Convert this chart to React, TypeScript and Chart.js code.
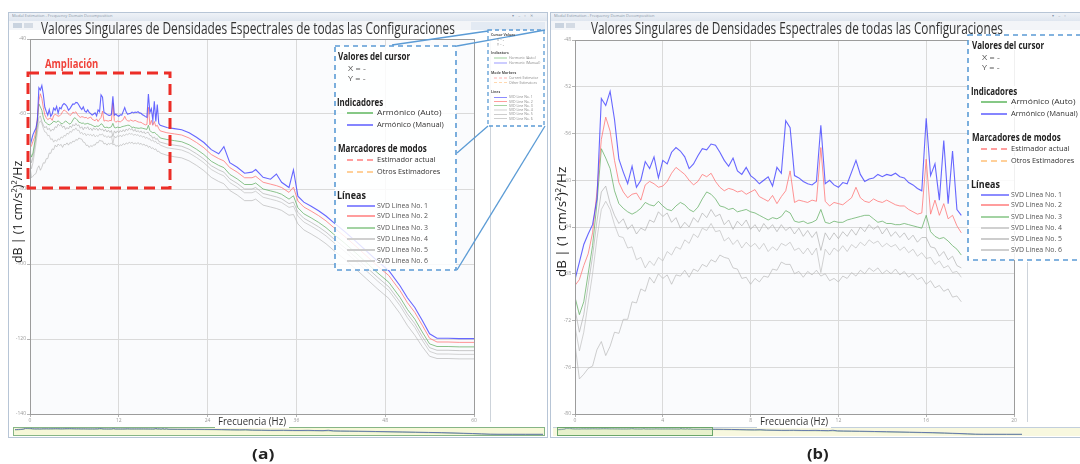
import React, { useEffect, useLayoutEffect, useRef, useState } from 'react';
import { Chart, registerables } from 'chart.js';

Chart.register(...registerables);

const FONT = '"Open Sans", "Liberation Sans", sans-serif';

// ---------------- data ----------------
const FREQ_HZ = [
  0, 0.2, 0.4, 0.6, 0.8, 1, 1.2, 1.4, 1.6, 1.8,
  2, 2.2, 2.4, 2.6, 2.8, 3, 3.2, 3.4, 3.6, 3.8,
  4, 4.2, 4.4, 4.6, 4.8, 5, 5.2, 5.4, 5.6, 5.8,
  6, 6.2, 6.4, 6.6, 6.8, 7, 7.2, 7.4, 7.6, 7.8,
  8, 8.2, 8.4, 8.6, 8.8, 9, 9.2, 9.4, 9.6, 9.8,
  10, 10.2, 10.4, 10.6, 10.8, 11, 11.2, 11.4, 11.6, 11.8,
  12, 12.2, 12.4, 12.6, 12.8, 13, 13.2, 13.4, 13.6, 13.8,
  14, 14.2, 14.4, 14.6, 14.8, 15, 15.2, 15.4, 15.6, 15.8,
  16, 16.2, 16.4, 16.6, 16.8, 17, 17.2, 17.4, 17.6,
  18.5, 19.5, 20.5, 21.5, 22.5, 23.5, 24.5, 25.5, 26.2, 27,
  28, 29, 30, 30.5, 31.5, 32.5, 33.3, 34, 35, 35.6,
  36.2, 37, 38, 39, 40, 41, 42.5, 44, 45.5, 47,
  48.5, 50, 51, 52, 53, 54, 55, 56.5, 58, 60,
];

const SVD_LINE_1 = [
  -68.5, -67.0, -65.5, -64.6, -63.8, -61.6, -53.0, -53.6, -52.4, -54.8,
  -58.2, -59.3, -60.3, -58.8, -60.6, -60.0, -58.4, -59.0, -58.0, -59.8,
  -58.3, -58.6, -57.6, -57.2, -57.5, -58.0, -59.0, -58.6, -57.9, -57.3,
  -57.4, -56.9, -57.0, -57.6, -58.3, -58.8, -58.1, -59.2, -59.5, -58.9,
  -59.6, -59.9, -60.3, -60.0, -59.7, -60.5, -58.9, -59.4, -54.9, -55.5,
  -59.6, -59.8, -60.1, -60.3, -60.4, -60.1, -55.3, -60.3, -60.0, -60.4,
  -60.6, -60.2, -60.3, -59.3, -58.3, -59.5, -60.1, -59.9, -59.8, -59.5,
  -59.7, -59.5, -59.6, -59.4, -59.7, -59.8, -60.2, -60.4, -60.7, -60.9,
  -54.7, -59.6, -58.6, -61.7, -56.6, -62.0, -57.5, -62.5, -63.0,
  -63.6, -63.9, -64.2, -65.0, -66.2, -67.6, -69.5, -70.6, -68.7, -73.0,
  -74.2, -75.8, -75.5, -74.8, -76.9, -77.4, -76.0, -78.2, -79.6, -74.9,
  -81.9, -83.5, -84.6, -85.8, -87.2, -88.9, -91.3, -93.9, -96.6, -99.3,
  -101.8, -105.8, -109.0, -111.6, -115.0, -118.6, -119.8, -119.8, -119.9, -119.9,
];

const SVD_LINE_2 = [
  -69.0, -68.5, -67.3, -66.3, -64.5, -61.0, -56.5, -54.6, -55.8, -58.3,
  -60.2, -61.0, -61.5, -61.2, -61.1, -61.7, -60.4, -60.1, -60.3, -60.6,
  -60.5, -60.1, -59.4, -58.9, -59.2, -59.5, -60.0, -60.4, -60.1, -59.5,
  -59.7, -59.4, -60.1, -60.6, -60.9, -60.7, -60.8, -61.0, -60.9, -61.2,
  -61.0, -60.8, -61.4, -61.6, -61.8, -61.3, -62.0, -61.4, -60.9, -59.2,
  -61.9, -61.7, -61.8, -61.9, -61.7, -61.8, -57.2, -61.8, -62.2, -61.9,
  -62.0, -62.1, -61.8, -61.5, -60.6, -61.5, -61.8, -61.9, -61.6, -61.8,
  -61.9, -61.7, -61.9, -62.1, -62.2, -62.2, -62.5, -62.7, -62.9, -62.8,
  -58.2, -62.9, -61.7, -63.0, -62.0, -63.3, -63.0, -63.9, -64.5,
  -65.0, -65.3, -65.6, -66.4, -67.6, -69.0, -70.8, -71.9, -72.5, -74.3,
  -75.5, -77.0, -77.0, -76.6, -78.2, -78.7, -79.1, -79.6, -80.9, -79.5,
  -83.2, -84.8, -85.9, -87.1, -88.5, -90.2, -92.6, -95.2, -97.9, -100.6,
  -103.1, -107.1, -110.3, -112.9, -116.3, -119.8, -120.8, -120.8, -120.9, -120.9,
];

const SVD_LINE_3 = [
  -70.0, -71.5, -70.4, -68.0, -65.6, -62.0, -57.3, -58.1, -59.0, -60.9,
  -62.0, -62.4, -62.7, -62.9, -62.7, -62.4, -61.9, -62.1, -62.2, -61.8,
  -62.2, -62.5, -62.6, -62.2, -61.9, -62.1, -62.5, -62.7, -62.3, -61.6,
  -61.0, -61.2, -61.6, -62.2, -62.3, -62.5, -62.4, -62.7, -62.6, -62.5,
  -62.7, -62.8, -63.0, -63.2, -63.4, -63.2, -63.3, -63.1, -62.6, -62.8,
  -63.5, -63.6, -63.5, -63.7, -63.6, -63.4, -62.5, -63.6, -63.7, -63.5,
  -63.6, -63.6, -63.4, -63.3, -63.2, -63.1, -63.0, -63.0, -63.3, -63.6,
  -63.5, -63.7, -63.7, -63.8, -63.8, -63.7, -63.8, -63.9, -64.0, -64.1,
  -63.0, -64.4, -64.8, -65.0, -64.9, -65.2, -65.6, -65.9, -66.4,
  -66.8, -67.1, -67.4, -68.2, -69.4, -70.8, -72.6, -73.7, -74.3, -76.1,
  -77.3, -78.8, -78.8, -78.4, -80.0, -80.5, -80.9, -81.4, -82.7, -81.8,
  -85.0, -86.6, -87.7, -88.9, -90.3, -92.0, -94.4, -97.0, -99.7, -102.4,
  -104.9, -108.9, -112.1, -114.7, -118.1, -121.3, -122.0, -122.0, -122.1, -122.1,
];

const SVD_LINE_4 = [
  -71.0, -73.0, -71.5, -69.0, -66.5, -63.5, -61.0, -60.5, -62.0, -63.0,
  -63.7, -63.3, -64.2, -63.8, -64.6, -64.1, -64.3, -63.4, -63.6, -62.7,
  -63.1, -62.8, -63.6, -63.2, -64.1, -63.6, -64.0, -63.2, -63.6, -62.8,
  -63.2, -62.5, -63.1, -62.9, -63.8, -63.4, -64.2, -63.5, -63.9, -63.4,
  -64.2, -63.8, -64.4, -63.7, -64.2, -63.8, -64.4, -63.8, -64.3, -64.0,
  -64.6, -64.1, -64.8, -64.3, -64.9, -64.4, -66.0, -64.5, -65.1, -64.5,
  -65.0, -64.4, -64.8, -64.2, -64.7, -64.0, -64.4, -63.8, -64.2, -63.9,
  -64.6, -64.1, -64.8, -64.4, -64.9, -64.5, -65.1, -64.7, -65.3, -64.9,
  -64.9, -65.7, -65.8, -66.5, -66.1, -66.8, -66.5, -67.3, -67.5,
  -68.0, -68.3, -68.6, -69.4, -70.6, -72.0, -73.8, -74.9, -75.5, -77.3,
  -78.5, -80.0, -80.0, -79.6, -81.2, -81.7, -82.1, -82.6, -83.9, -83.5,
  -86.2, -87.8, -88.9, -90.1, -91.5, -93.2, -95.6, -98.2, -100.9, -103.6,
  -106.1, -110.1, -113.3, -115.9, -119.3, -122.3, -123.0, -123.0, -123.1, -123.1,
];

const SVD_LINE_5 = [
  -72.5, -74.6, -73.0, -70.5, -68.0, -65.0, -62.5, -61.8, -62.5, -63.8,
  -64.8, -64.9, -65.8, -65.7, -66.8, -66.6, -67.5, -66.9, -67.3, -66.6,
  -66.9, -66.1, -66.4, -65.7, -65.9, -65.1, -65.4, -64.6, -64.9, -64.1,
  -64.3, -63.7, -64.4, -64.3, -65.2, -64.9, -65.5, -65.1, -65.8, -65.3,
  -65.7, -65.4, -65.9, -65.4, -66.1, -65.7, -66.0, -65.4, -65.6, -65.3,
  -66.0, -65.8, -66.3, -65.8, -66.4, -65.8, -67.9, -65.9, -66.4, -65.8,
  -66.1, -65.6, -66.1, -65.5, -65.8, -65.3, -65.6, -65.1, -65.4, -65.2,
  -65.7, -65.4, -65.7, -65.5, -66.0, -65.7, -66.2, -65.9, -66.5, -66.2,
  -66.7, -66.6, -67.2, -66.9, -67.5, -67.3, -67.9, -67.8, -68.3,
  -69.0, -69.3, -69.6, -70.4, -71.6, -73.0, -74.8, -75.9, -76.5, -78.3,
  -79.5, -81.0, -81.0, -80.6, -82.2, -82.7, -83.1, -83.6, -84.9, -84.6,
  -87.2, -88.8, -89.9, -91.1, -92.5, -94.2, -96.6, -99.2, -101.9, -104.6,
  -107.1, -111.1, -114.3, -116.9, -120.3, -123.3, -124.0, -124.0, -124.1, -124.1,
];

const SVD_LINE_6 = [
  -74.0, -77.0, -76.6, -76.1, -75.9, -74.5, -73.8, -75.0, -74.2, -73.0,
  -73.1, -71.9, -71.9, -70.4, -70.5, -69.3, -69.5, -68.3, -68.8, -68.0,
  -68.4, -68.1, -68.9, -68.1, -68.2, -67.7, -68.3, -67.6, -67.8, -67.2,
  -67.4, -66.8, -67.0, -66.4, -66.6, -66.7, -67.5, -67.6, -68.4, -68.3,
  -68.9, -68.4, -68.7, -68.2, -68.3, -67.6, -67.7, -67.0, -67.2, -67.2,
  -68.0, -67.8, -68.3, -67.8, -68.1, -67.7, -68.2, -68.0, -68.6, -68.4,
  -68.7, -68.2, -68.4, -67.9, -68.2, -67.7, -68.0, -67.5, -67.8, -67.5,
  -68.0, -67.7, -68.0, -67.6, -68.1, -67.8, -68.3, -68.0, -68.5, -68.3,
  -68.9, -68.6, -69.2, -69.0, -69.5, -69.3, -70.0, -69.9, -70.4,
  -71.0, -71.4, -71.7, -72.5, -73.7, -75.1, -76.9, -78.0, -78.6, -80.4,
  -81.6, -83.1, -83.1, -82.7, -84.3, -84.8, -85.2, -85.7, -87.0, -86.8,
  -89.3, -90.9, -92.0, -93.2, -94.6, -96.3, -98.7, -101.3, -104.0, -106.7,
  -109.2, -113.2, -116.4, -119.0, -122.0, -124.6, -125.2, -125.2, -125.3, -125.3,
];

const SERIES = [SVD_LINE_1, SVD_LINE_2, SVD_LINE_3, SVD_LINE_4, SVD_LINE_5, SVD_LINE_6];
const SERIES_NAMES = ['SVD Línea No. 1', 'SVD Línea No. 2', 'SVD Línea No. 3', 'SVD Línea No. 4', 'SVD Línea No. 5', 'SVD Línea No. 6'];
const SERIES_NAMES_EN = ['SVD Line No. 1', 'SVD Line No. 2', 'SVD Line No. 3', 'SVD Line No. 4', 'SVD Line No. 5', 'SVD Line No. 6'];

const LEFT_X_TICKS = [0, 12, 24, 36, 48, 60];
const LEFT_Y_TICKS = [-140, -120, -100, -80, -60, -40];
const RIGHT_X_TICKS = [0, 4, 8, 12, 16, 20];
const RIGHT_Y_TICKS = [-80, -76, -72, -68, -64, -60, -56, -52, -48];
const ZOOM_MAX_HZ = 17.6;

const TITLE = 'Valores Singulares de Densidades Espectrales de todas las Configuraciones';
const Y_TITLE = 'dB | (1 cm/s²)²/Hz';
const X_TITLE = 'Frecuencia (Hz)';

// ---------------- styles ----------------
const LINE_COLORS = [
  'rgba(70, 70, 255, 0.82)',
  'rgba(255, 120, 120, 0.8)',
  'rgba(100, 175, 100, 0.75)',
  'rgba(175, 175, 175, 0.75)',
  'rgba(190, 190, 190, 0.75)',
  'rgba(182, 182, 182, 0.75)',
];
const LINE_WIDTHS = [1.1, 1, 1, 0.9, 0.9, 0.9];
const LEGEND_SWATCH = ['#8c8cff', '#ff9d9d', '#a3d3a3', '#d0d0d0', '#cdcdcd', '#cfcfcf'];

const plotBackground = {
  id: 'plotBackground',
  beforeDraw(chart: any) {
    const a = chart.chartArea;
    const ctx = chart.ctx;
    ctx.save();
    ctx.fillStyle = '#fafbfd';
    ctx.fillRect(a.left, a.top, a.right - a.left, a.bottom - a.top);
    ctx.restore();
  },
};
const plotFrame = {
  id: 'plotFrame',
  afterDraw(chart: any) {
    const a = chart.chartArea;
    const ctx = chart.ctx;
    ctx.save();
    ctx.strokeStyle = '#9c9c9c';
    ctx.lineWidth = 1;
    ctx.strokeRect(Math.round(a.left) + 0.5, Math.round(a.top) + 0.5, Math.round(a.right - a.left), Math.round(a.bottom - a.top));
    ctx.restore();
  },
};

function spectrumConfig(o: any) {
  const { maxHz, xTicks, yTicks, yAxisW, xAxisH, padTop, padRight } = o;
  const datasets = SERIES.map((vals, i) => ({
    label: SERIES_NAMES[i],
    data: FREQ_HZ.map((f, k) => ({ x: f, y: vals[k] })).filter((p) => p.x <= maxHz + 1e-9),
    borderColor: LINE_COLORS[i],
    borderWidth: LINE_WIDTHS[i],
    pointRadius: 0,
    tension: 0,
    fill: false,
  }));
  const tickFont = { family: FONT, size: 5 };
  return {
    type: 'line',
    data: { datasets },
    options: {
      responsive: false,
      animation: false,
      events: [],
      layout: { padding: { top: padTop, right: padRight, left: 0, bottom: 0 } },
      plugins: { legend: { display: false }, tooltip: { enabled: false }, title: { display: false } },
      scales: {
        x: {
          type: 'linear',
          min: xTicks[0],
          max: xTicks[xTicks.length - 1],
          afterBuildTicks: (s: any) => { s.ticks = xTicks.map((v: number) => ({ value: v })); },
          afterFit: (s: any) => { s.height = xAxisH; },
          ticks: { font: tickFont, color: '#9a9a9a', padding: 1, maxRotation: 0, autoSkip: false },
          grid: { color: '#dadada', lineWidth: 1, tickLength: 3, tickColor: '#b4b4b4' },
          border: { color: '#a0a0a0' },
        },
        y: {
          type: 'linear',
          min: yTicks[0],
          max: yTicks[yTicks.length - 1],
          afterBuildTicks: (s: any) => { s.ticks = yTicks.map((v: number) => ({ value: v })); },
          afterFit: (s: any) => { s.width = yAxisW; },
          ticks: { font: tickFont, color: '#9a9a9a', padding: 1, autoSkip: false },
          grid: { color: '#dadada', lineWidth: 1, tickLength: 3, tickColor: '#b4b4b4' },
          border: { color: '#a0a0a0' },
        },
      },
    },
    plugins: [plotBackground, plotFrame],
  };
}

function overviewConfig() {
  return {
    type: 'line',
    data: {
      datasets: [
        { data: FREQ_HZ.map((f, k) => ({ x: f, y: SVD_LINE_1[k] })), borderColor: 'rgba(90,110,170,0.9)', borderWidth: 1, pointRadius: 0 },
        { data: FREQ_HZ.map((f, k) => ({ x: f, y: SVD_LINE_3[k] })), borderColor: 'rgba(120,170,120,0.6)', borderWidth: 1, pointRadius: 0 },
      ],
    },
    options: {
      responsive: false,
      animation: false,
      events: [],
      layout: { padding: 0 },
      plugins: { legend: { display: false }, tooltip: { enabled: false } },
      scales: {
        x: { type: 'linear', display: false, min: 0, max: 60 },
        y: { type: 'linear', display: false, min: -128, max: -50 },
      },
    },
  };
}

// ---------------- components ----------------
function ChartCanvas({ x, y, w, h, make }: any) {
  const ref = useRef<HTMLCanvasElement>(null);
  useEffect(() => {
    const c = new Chart(ref.current as HTMLCanvasElement, make());
    return () => c.destroy();
  }, []);
  return <canvas ref={ref} width={w} height={h} style={{ position: 'absolute', left: x, top: y, width: w, height: h }} />;
}

function Txt({ x, y, text, size, w, weight = 400, color = '#222', bg }: any) {
  const ref = useRef<HTMLSpanElement>(null);
  const [sx, setSx] = useState(1);
  useLayoutEffect(() => {
    if (w && ref.current) {
      const nat = ref.current.offsetWidth;
      if (nat > 0) setSx(w / nat);
    }
  }, [w, text, size]);
  return (
    <span
      ref={ref}
      style={{
        position: 'absolute', left: x, top: y - size * 0.6, fontSize: size, lineHeight: 1, fontFamily: FONT,
        fontWeight: weight, color, whiteSpace: 'pre', transform: `scaleX(${sx})`, transformOrigin: 'left top',
        background: bg,
      }}
    >{text}</span>
  );
}

function RotTxt({ cx, cy, text, size, w, color = '#222' }: any) {
  const ref = useRef<HTMLSpanElement>(null);
  const [sx, setSx] = useState(1);
  useLayoutEffect(() => {
    if (ref.current) {
      const nat = ref.current.offsetWidth;
      if (nat > 0) setSx(w / nat);
    }
  }, [w, text]);
  return (
    <div style={{ position: 'absolute', left: cx, top: cy, width: 0, height: 0, transform: 'rotate(-90deg)', transformOrigin: '0 0' }}>
      <span ref={ref} style={{ position: 'absolute', left: -w / 2, top: -size * 0.6, fontSize: size, lineHeight: 1, fontFamily: FONT, color, whiteSpace: 'pre', transform: `scaleX(${sx})`, transformOrigin: 'left top' }}>{text}</span>
    </div>
  );
}

function Window({ x, y, w, h, toolbarBlue }: any) {
  return (
    <div style={{ position: 'absolute', left: x, top: y, width: w, height: h, border: '1px solid #b7c5d6', background: '#ffffff', boxSizing: 'border-box' }}>
      <div style={{ position: 'absolute', left: 0, top: 0, right: 0, height: 8, background: 'linear-gradient(#eef2f7,#dfe6ef)' }} />
      <div style={{ position: 'absolute', left: 0, top: 8, right: 0, height: 9, background: '#f3f5f8' }} />
      <div style={{ position: 'absolute', left: toolbarBlue, top: 9, right: 2, height: 8, background: '#e3eaf3' }} />
      <div style={{ position: 'absolute', left: 4, top: 10, width: 9, height: 5, background: '#c9d3df' }} />
      <div style={{ position: 'absolute', left: 15, top: 10, width: 9, height: 5, background: '#d4dbe4' }} />
    </div>
  );
}

function SmallText({ x, y, text, bold }: any) {
  return (
    <span style={{ position: 'absolute', left: x, top: y - 4.5, fontSize: 7, lineHeight: 1, fontFamily: FONT, fontWeight: bold ? 700 : 400, color: bold ? '#555' : '#888', whiteSpace: 'pre' }}>{text}</span>
  );
}

function Swatch({ x1, x2, y, color, dashed, width = 2 }: any) {
  return (
    <div style={{ position: 'absolute', left: x1, top: y - width / 2, width: x2 - x1, height: 0, borderTop: `${width}px ${dashed ? 'dashed' : 'solid'} ${color}` }} />
  );
}

// big legend, origin = top-left of its dashed box
function BigLegend({ ox, oy }: any) {
  const svdY = [160, 170, 182, 193, 204, 215];
  return (
    <>
      <Txt x={ox + 3} y={oy + 11} text="Valores del cursor" size={10.5} w={72} weight={700} bg="#fff" />
      <Txt x={ox + 13} y={oy + 23} text="X = -" size={7.5} w={18} color="#555" />
      <Txt x={ox + 13} y={oy + 33} text="Y = -" size={7.5} w={18} color="#555" />
      <Txt x={ox + 2} y={oy + 57} text="Indicadores" size={10.5} w={46} weight={700} bg="#fff" />
      <Swatch x1={ox + 12} x2={ox + 38} y={oy + 67} color="#86c886" />
      <Txt x={ox + 42} y={oy + 67} text="Armónico (Auto)" size={8} w={65} color="#333" bg="#fff" />
      <Swatch x1={ox + 12} x2={ox + 38} y={oy + 79} color="#8585ff" />
      <Txt x={ox + 42} y={oy + 79} text="Armónico (Manual)" size={8} w={67} color="#333" bg="#fff" />
      <Txt x={ox + 3} y={oy + 103} text="Marcadores de modos" size={10.5} w={89} weight={700} bg="#fff" />
      <Swatch x1={ox + 12} x2={ox + 38} y={oy + 114} color="#ff9e9e" dashed />
      <Txt x={ox + 42} y={oy + 114} text="Estimador actual" size={8} w={59} color="#333" bg="#fff" />
      <Swatch x1={ox + 12} x2={ox + 38} y={oy + 126} color="#ffd09a" dashed />
      <Txt x={ox + 42} y={oy + 126} text="Otros Estimadores" size={8} w={63} color="#333" bg="#fff" />
      <Txt x={ox + 2} y={oy + 150} text="Líneas" size={10.5} w={29} weight={700} bg="#fff" />
      {svdY.map((dy, i) => (
        <React.Fragment key={i}>
          <Swatch x1={ox + 12} x2={ox + 40} y={oy + dy} color={LEGEND_SWATCH[i]} />
          <Txt x={ox + 42} y={oy + dy} text={SERIES_NAMES[i]} size={7.5} w={51} color="#555" bg="#fff" />
        </React.Fragment>
      ))}
    </>
  );
}

function TinyLegend() {
  // drawn at twice the size, then scaled by one half
  const rows = [97.3, 101.7, 105.7, 110, 114.3, 118.7];
  const ox = 488, oy = 30;
  const X = (v: number) => (v - ox) * 2;
  const Y = (v: number) => (v - oy) * 2;
  return (
    <div style={{ position: 'absolute', left: ox, top: oy, width: 120, height: 200, transform: 'scale(0.5)', transformOrigin: '0 0' }}>
      <SmallText x={X(491)} y={Y(35)} text="Cursor Values" bold />
      <SmallText x={X(497)} y={Y(40)} text="X = -" />
      <SmallText x={X(497)} y={Y(44.5)} text="Y = -" />
      <SmallText x={X(491)} y={Y(53)} text="Indicators" bold />
      <Swatch x1={X(494)} x2={X(507)} y={Y(58)} color="#9bd09b" />
      <SmallText x={X(509)} y={Y(58)} text="Harmonic (Auto)" />
      <Swatch x1={X(494)} x2={X(507)} y={Y(63)} color="#9c9cff" />
      <SmallText x={X(509)} y={Y(63)} text="Harmonic (Manual)" />
      <SmallText x={X(491)} y={Y(73)} text="Mode Markers" bold />
      <Swatch x1={X(494)} x2={X(507)} y={Y(78)} color="#ffb0b0" dashed />
      <SmallText x={X(509)} y={Y(78)} text="Current Estimator" />
      <Swatch x1={X(494)} x2={X(507)} y={Y(82.5)} color="#ffd8b0" dashed />
      <SmallText x={X(509)} y={Y(82.5)} text="Other Estimators" />
      <SmallText x={X(491)} y={Y(92)} text="Lines" bold />
      {rows.map((r, i) => (
        <React.Fragment key={i}>
          <Swatch x1={X(494)} x2={X(507)} y={Y(r)} color={LEGEND_SWATCH[i]} />
          <SmallText x={X(509)} y={Y(r)} text={SERIES_NAMES_EN[i]} />
        </React.Fragment>
      ))}
    </div>
  );
}

export default function App() {
  return (
    <div style={{ position: 'fixed', left: 0, top: 0, width: 1080, height: 464, background: '#ffffff', overflow: 'hidden', fontFamily: FONT }}>
      <Window x={8} y={12} w={540} h={426} toolbarBlue={462} />
      <Window x={550} y={12} w={540} h={426} toolbarBlue={1000} />

      {/* window title texts */}
      <div style={{ position: 'absolute', left: 12, top: 13, fontSize: 8, lineHeight: 1, color: '#8a97a8', transform: 'scale(0.5)', transformOrigin: '0 0', whiteSpace: 'pre' }}>Modal Estimation - Frequency Domain Decomposition</div>
      <div style={{ position: 'absolute', left: 554, top: 13, fontSize: 8, lineHeight: 1, color: '#8a97a8', transform: 'scale(0.5)', transformOrigin: '0 0', whiteSpace: 'pre' }}>Modal Estimation - Frequency Domain Decomposition</div>
      <div style={{ position: 'absolute', left: 512, top: 13, fontSize: 8, lineHeight: 1, color: '#8a97a8', transform: 'scale(0.5)', transformOrigin: '0 0', whiteSpace: 'pre' }}>▾    –    ▫    ✕</div>
      <div style={{ position: 'absolute', left: 1052, top: 13, fontSize: 8, lineHeight: 1, color: '#8a97a8', transform: 'scale(0.5)', transformOrigin: '0 0', whiteSpace: 'pre' }}>▾    –    ▫</div>

      {/* separator lines beside the plots */}
      <div style={{ position: 'absolute', left: 490, top: 30, width: 1, height: 392, background: '#cdd3da' }} />
      <div style={{ position: 'absolute', left: 1027, top: 262, width: 1, height: 160, background: '#cdd3da' }} />

      {/* main charts */}
      <ChartCanvas x={0} y={30} w={482} h={400} make={() => spectrumConfig({ maxHz: 1000, xTicks: LEFT_X_TICKS, yTicks: LEFT_Y_TICKS, yAxisW: 30, xAxisH: 16, padTop: 9, padRight: 8 })} />
      <ChartCanvas x={548} y={30} w={472} h={400} make={() => spectrumConfig({ maxHz: ZOOM_MAX_HZ, xTicks: RIGHT_X_TICKS, yTicks: RIGHT_Y_TICKS, yAxisW: 27, xAxisH: 16, padTop: 10, padRight: 6 })} />

      {/* overview strips */}
      <div style={{ position: 'absolute', left: 13, top: 427, width: 532, height: 9, background: '#f6f8d8', border: '1px solid #86b586', boxSizing: 'border-box' }} />
      <ChartCanvas x={15} y={428} w={528} h={7} make={overviewConfig} />
      <div style={{ position: 'absolute', left: 553, top: 427, width: 530, height: 9, background: '#f8f8df', borderTop: '1px solid #c2cfdc', boxSizing: 'border-box' }} />
      <ChartCanvas x={557} y={428} w={465} h={7} make={overviewConfig} />
      <div style={{ position: 'absolute', left: 557, top: 427, width: 156, height: 9, background: 'rgba(200,230,170,0.35)', border: '1px solid #6aa66a', boxSizing: 'border-box' }} />

      {/* x axis titles */}
      <div style={{ position: 'absolute', left: 215, top: 415, width: 74, height: 13, background: '#fff' }} />
      <Txt x={218} y={422} text={X_TITLE} size={10} w={68} color="#333" />
      <div style={{ position: 'absolute', left: 757, top: 415, width: 74, height: 13, background: '#fff' }} />
      <Txt x={760} y={422} text={X_TITLE} size={10} w={68} color="#333" />

      {/* y axis titles */}
      <RotTxt cx={19} cy={212} text={Y_TITLE} size={12} w={102} color="#222" />
      <RotTxt cx={563} cy={222} text={Y_TITLE} size={12} w={110} color="#222" />

      {/* overlay shapes */}
      <svg width={1080} height={464} style={{ position: 'absolute', left: 0, top: 0 }}>
        <rect x={335} y={46} width={121} height={224} fill="rgba(255,255,255,0.82)" stroke="#5b9bd5" strokeWidth={1.6} strokeDasharray="5 4" />
        <rect x={488} y={30} width={56} height={96} fill="rgba(255,255,255,0.85)" stroke="#5b9bd5" strokeWidth={1.3} strokeDasharray="4 3" />
        <rect x={968} y={35} width={140} height={225} fill="rgba(255,255,255,0.85)" stroke="#5b9bd5" strokeWidth={1.6} strokeDasharray="5 4" />
        <line x1={457} y1={46} x2={545} y2={30} stroke="#5b9bd5" strokeWidth={1.3} />
        <line x1={392} y1={45} x2={488} y2={31} stroke="#5b9bd5" strokeWidth={1.3} />
        <line x1={457} y1={153} x2={488} y2={126} stroke="#5b9bd5" strokeWidth={1.3} />
        <line x1={457} y1={270} x2={545} y2={126} stroke="#5b9bd5" strokeWidth={1.3} />
        <rect x={28} y={73} width={142} height={115} fill="none" stroke="#ec2d27" strokeWidth={3} strokeDasharray="11 6" />
      </svg>

      {/* chart titles */}
      <Txt x={41} y={30} text={TITLE} size={16} w={414} color="#333" />
      <Txt x={591} y={30} text={TITLE} size={16} w={412} color="#333" />

      <Txt x={45} y={65} text="Ampliación" size={12} w={53} weight={700} color="#f0433b" />

      <BigLegend ox={335} oy={46} />
      <BigLegend ox={969} oy={35} />
      <TinyLegend />

      <Txt x={252} y={455} text="(a)" size={15} w={22} weight={700} color="#222" />
      <Txt x={807} y={455} text="(b)" size={15} w={22} weight={700} color="#222" />
    </div>
  );
}
